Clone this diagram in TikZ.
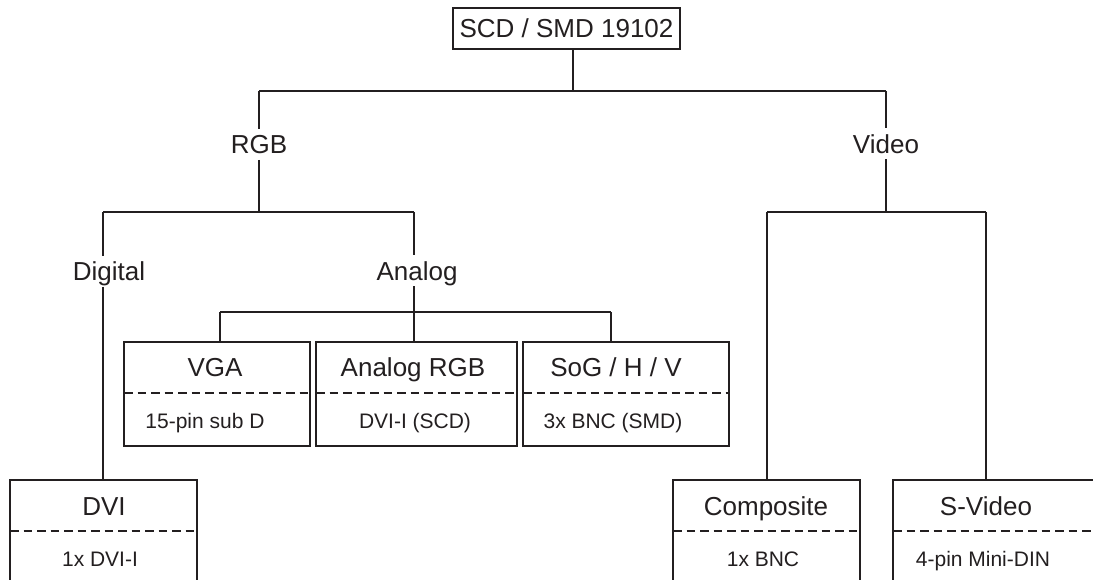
\documentclass[tikz,border=0pt]{standalone}
\usepackage{fontspec}
\setmainfont{Liberation Sans}
\definecolor{lc}{HTML}{231F20}
\definecolor{tc}{HTML}{231F20}
\tikzset{
  ln/.style={line width=1.4pt, draw=lc},
  dline/.style={line width=1.4pt, draw=lc, dash pattern=on 8.5pt off 5pt},
  lbl/.style={font=\fontsize{26}{30}\selectfont, text=tc, inner sep=6pt, text height=18.6pt, text depth=0pt},
  ttl/.style={font=\fontsize{26}{30}\selectfont, text=tc, inner sep=0pt, text height=18.6pt, text depth=0pt},
  sub/.style={font=\fontsize{21}{25}\selectfont, text=tc, inner sep=0pt, text height=15pt, text depth=0pt},
}
\begin{document}
\begin{tikzpicture}[x=1pt,y=-1pt]
\useasboundingbox (0,0) rectangle (1093,580);
\fill[white] (0,0) rectangle (1093,580);

% root
\node[draw=lc, line width=1.4pt, minimum width=227pt, minimum height=41pt, inner sep=0pt,
      font=\fontsize{26}{30}\selectfont, text=tc, text height=18.6pt, text depth=0pt] (root) at (566.5,28.5) {SCD / SMD 19102};
\coordinate (t) at (573,91);
\coordinate (tl) at (259,91);
\coordinate (tr) at (886,91);
\draw[ln] (t |- root.south) -- (t);
\draw[ln] (tl) -- (tr);

% level 1 labels
\node[lbl] (rgb) at (259,144.5) {RGB};
\node[lbl] (video) at (886,144) {Video};
\draw[ln] (tl) -- (rgb.north);
\draw[ln] (tr) -- (video.north);

\coordinate (rc) at (259,212);
\coordinate (rl) at (103,212);
\coordinate (rr) at (414,212);
\coordinate (vc) at (886,212);
\coordinate (vl) at (767,212);
\coordinate (vr) at (986,212);
\draw[ln] (rgb.south) -- (rc);
\draw[ln] (rl) -- (rr);
\draw[ln] (video.south) -- (vc);
\draw[ln] (vl) -- (vr);

% level 2 labels
\node[lbl] (digital) at (109,271.5) {Digital};
\node[lbl] (analog) at (417,271) {Analog};
\draw[ln] (rl) -- (rl |- digital.north);
\draw[ln] (rr) -- (rr |- analog.north);

\coordinate (al) at (220,312);
\coordinate (ac) at (414,312);
\coordinate (ar) at (611,312);
\coordinate (vgatop) at (220,342);
\coordinate (argbtop) at (414,342);
\coordinate (sogtop) at (611,342);
\draw[ln] (rr |- analog.south) -- (argbtop);
\draw[ln] (al) -- (ar);
\draw[ln] (al) -- (vgatop);
\draw[ln] (ar) -- (sogtop);

% analog boxes
\draw[ln] (124,342) rectangle (310,446);
\draw[dline] (124,393) -- (310,393);
\node[ttl] (vga) at (215,367) {VGA};
\node[sub] (vgasub) at (205,421) {15-pin sub D};

\draw[ln] (316,342) rectangle (517,446);
\draw[dline] (316,393) -- (517,393);
\node[ttl] (argb) at (413,367) {Analog RGB};
\node[sub] (argbsub) at (415,421) {DVI-I (SCD)};

\draw[ln] (523,342) rectangle (729,446);
\draw[dline] (523,393) -- (729,393);
\node[ttl] (sog) at (616,367) {SoG / H / V};
\node[sub] (sogsub) at (613,421) {3x BNC (SMD)};

% DVI box
\coordinate (dvitop) at (103,480);
\draw[ln] (rl |- digital.south) -- (dvitop);
\draw[ln] (10,580) -- (10,480) -- (197,480) -- (197,580);
\draw[dline] (10,531) -- (197,531);
\node[ttl] (dvi) at (104,506) {DVI};
\node[sub] (dvisub) at (100,559) {1x DVI-I};

% Composite box
\coordinate (comptop) at (767,480);
\draw[ln] (vl) -- (comptop);
\draw[ln] (673,580) -- (673,480) -- (860,480) -- (860,580);
\draw[dline] (673,531) -- (860,531);
\node[ttl] (comp) at (766,506) {Composite};
\node[sub] (compsub) at (763,559) {1x BNC};

% S-Video box
\coordinate (svtop) at (986,480);
\draw[ln] (vr) -- (svtop);
\draw[ln] (893,580) -- (893,480) -- (1093,480);
\draw[dline] (893,531) -- (1093,531);
\node[ttl] (sv) at (986,506) {S-Video};
\node[sub] (svsub) at (983,559) {4-pin Mini-DIN};
\end{tikzpicture}
\end{document}
